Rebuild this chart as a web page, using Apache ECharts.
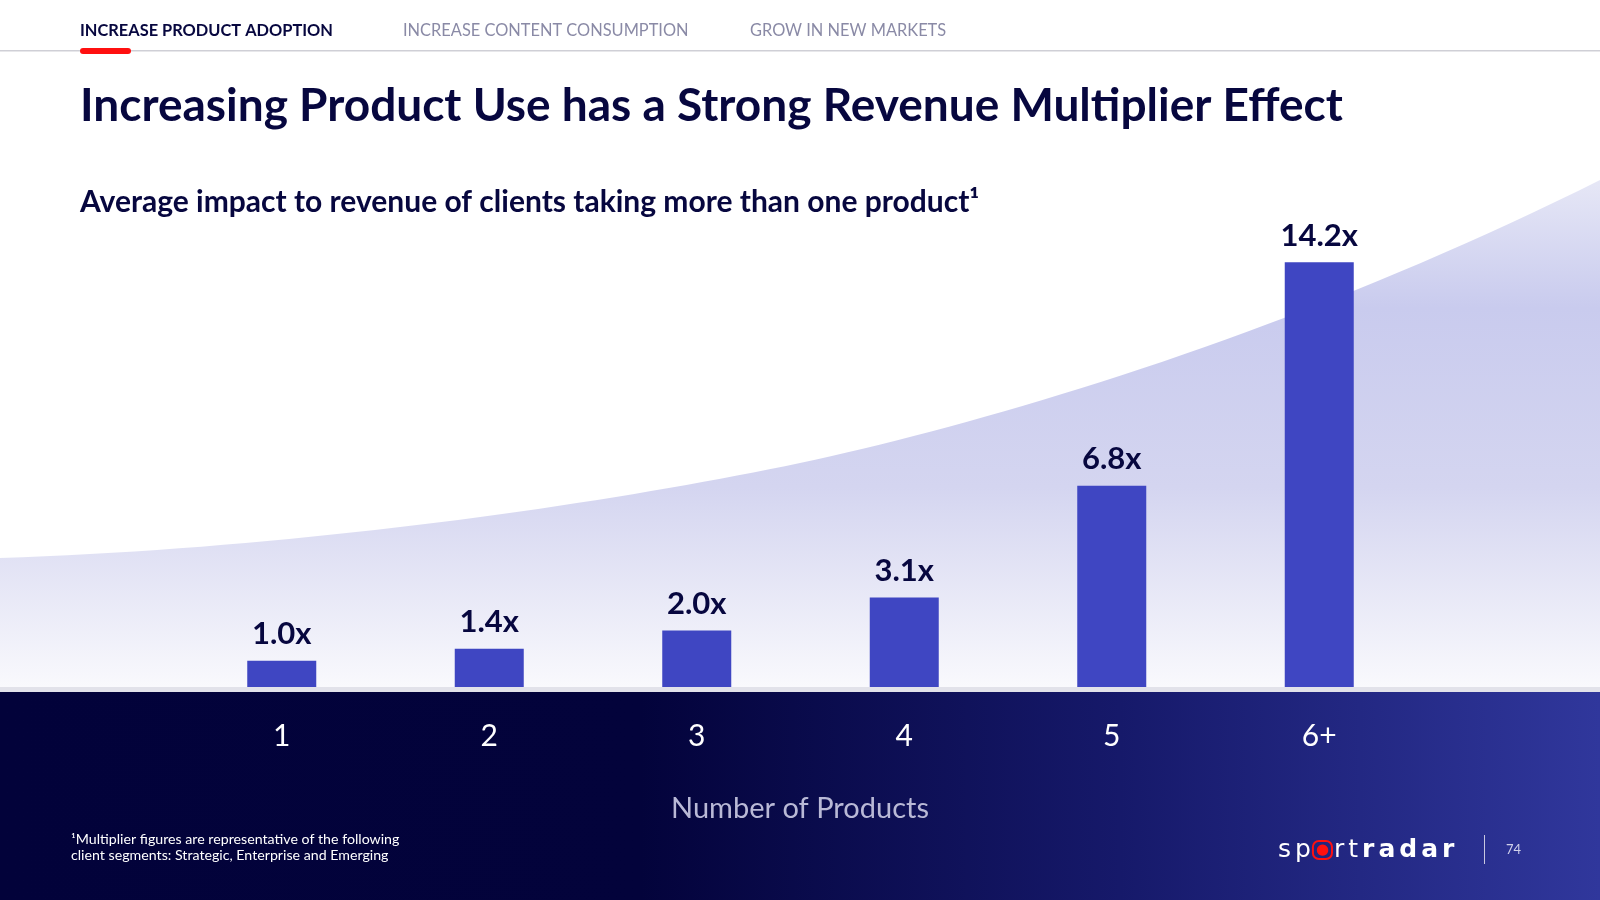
<!DOCTYPE html>
<html>
<head>
    <meta charset="utf-8">
    <title>Increasing Product Use has a Strong Revenue Multiplier Effect</title>
    <script src="https://cdn.jsdelivr.net/npm/echarts@6/dist/echarts.min.js"></script>
    <style>
        html, body { margin: 0; padding: 0; background: #ffffff; }
        #chart1 { width: 1600px; height: 900px; }
    </style>
</head>
<body>
    <div id="chart1"></div>

<script type="text/javascript">
    // data
    let products = ['1', '2', '3', '4', '5', '6+'];
    let multiplier = [1.0, 1.4, 2.0, 3.1, 6.8, 14.2];
    let navItems = ['INCREASE PRODUCT ADOPTION', 'INCREASE CONTENT CONSUMPTION', 'GROW IN NEW MARKETS'];
    let navX = [80, 403, 750];

    let FONT = "'Lato', sans-serif";
    let NAVY = '#07073f';

    function grad(x2, y2, stops) {
        return { type: 'linear', x: 0, y: 0, x2: x2, y2: y2, colorStops: stops };
    }

    // decorative swoosh outline (two cubic segments), sampled into a polygon
    function swoosh() {
        let segs = [
            [[0, 558], [300, 548], [600, 505], [800, 463]],
            [[800, 463], [1000, 420], [1300, 330], [1600, 180]]
        ];
        let pts = [];
        segs.forEach(function (s) {
            for (let i = 0; i <= 40; i++) {
                let t = i / 40, u = 1 - t;
                let a = u * u * u, b = 3 * u * u * t, c = 3 * u * t * t, d = t * t * t;
                pts.push([a * s[0][0] + b * s[1][0] + c * s[2][0] + d * s[3][0],
                          a * s[0][1] + b * s[1][1] + c * s[2][1] + d * s[3][1]]);
            }
        });
        pts.push([1600, 692], [0, 692]);
        return pts;
    }

    let myChart1 = echarts.init(document.getElementById('chart1'));

    let graphics = [
        {
            type: 'polygon', z: -10,
            shape: { points: swoosh() },
            style: {
                fill: grad(0, 1, [
                    { offset: 0, color: '#e6e7f6' },
                    { offset: 0.25, color: '#c9cbee' },
                    { offset: 0.6, color: '#d4d5f0' },
                    { offset: 1, color: '#fafafd' }
                ])
            }
        },
        // dark footer band
        {
            type: 'rect', z: -9,
            shape: { x: 0, y: 692, width: 1600, height: 208 },
            style: {
                fill: grad(1, 0, [
                    { offset: 0, color: '#02023a' },
                    { offset: 0.4, color: '#03033b' },
                    { offset: 0.7, color: '#16196a' },
                    { offset: 1, color: '#30379c' }
                ])
            }
        },
        // gray base line
        { type: 'rect', z: 20, shape: { x: 0, y: 687, width: 1600, height: 5 }, style: { fill: '#e2e2ea' } },
        // nav divider + red marker
        { type: 'rect', z: 20, shape: { x: 0, y: 50, width: 1600, height: 1.5 }, style: { fill: '#cfcfd6' } },
        { type: 'rect', z: 21, shape: { x: 80, y: 48, width: 51, height: 6, r: 3 }, style: { fill: '#ff1010' } },
        // titles
        {
            type: 'text', z: 20, x: 80, y: 106,
            style: { text: 'Increasing Product Use has a Strong Revenue Multiplier Effect', fill: NAVY,
                font: 'bold 46px ' + FONT, verticalAlign: 'middle' }
        },
        {
            type: 'text', z: 20, x: 80, y: 202,
            style: { text: 'Average impact to revenue of clients taking more than one product¹', fill: NAVY,
                font: 'bold 30px ' + FONT, verticalAlign: 'middle' }
        },
        // axis name
        {
            type: 'text', z: 20, x: 800, y: 809,
            style: { text: 'Number of Products', fill: '#b9b9d6', font: '29px ' + FONT,
                align: 'center', verticalAlign: 'middle' }
        },
        // footnote
        {
            type: 'text', z: 20, x: 71, y: 847,
            style: { text: '¹Multiplier figures are representative of the following\nclient segments: Strategic, Enterprise and Emerging',
                fill: '#ffffff', font: '14.2px ' + FONT, lineHeight: 16, verticalAlign: 'middle' }
        },
        // logo + page number
        {
            type: 'text', z: 20, x: 1276, y: 850,
            style: {
                text: '{a|s}{a|p}{o|●}{a|r}{a|t}{b|r}{b|a}{b|d}{b|a}{b|r}',
                verticalAlign: 'middle',
                rich: {
                    a: { fill: '#ffffff', font: '25px DejaVu Sans', padding: [0, 2] },
                    b: { fill: '#ffffff', font: 'bold 25px DejaVu Sans', padding: [0, 2] },
                    o: { fill: '#ff1010', font: '15px DejaVu Sans', borderColor: '#ff1010', borderWidth: 2,
                        borderRadius: 6, padding: [2, 3, 1, 3] }
                }
            }
        },
        { type: 'rect', z: 20, shape: { x: 1484, y: 835, width: 1, height: 29 }, style: { fill: '#c8c8e0' } },
        {
            type: 'text', z: 20, x: 1506, y: 850,
            style: { text: '74', fill: '#d0d0ea', font: '13px ' + FONT, verticalAlign: 'middle' }
        }
    ];

    navItems.forEach(function (name, i) {
        graphics.push({
            type: 'text', z: 20, x: navX[i], y: 31,
            style: { text: name, fill: i === 0 ? NAVY : '#8a8aa6',
                font: (i === 0 ? 'bold ' : '') + '16.4px ' + FONT, verticalAlign: 'middle' }
        });
    });

    myChart1.setOption({
        animation: false,
        backgroundColor: '#ffffff',
        graphic: graphics,
        grid: { left: 178, right: 177, top: 238, bottom: 209 },
        xAxis: {
            type: 'category',
            data: products,
            z: 10,
            axisLine: { show: false },
            axisTick: { show: false },
            axisLabel: { color: '#ffffff', fontSize: 30, fontFamily: FONT, margin: 30 }
        },
        yAxis: {
            type: 'value',
            min: 0,
            max: 15,
            show: false,
            splitLine: { show: false }
        },
        series: [{
            type: 'bar',
            z: 5,
            data: multiplier,
            barWidth: 69,
            itemStyle: { color: '#3f46c2' },
            label: {
                show: true,
                position: 'top',
                distance: 11,
                color: NAVY,
                fontSize: 31,
                fontWeight: 'bold',
                fontFamily: FONT,
                formatter: function (p) { return p.value.toFixed(1) + 'x'; }
            }
        }]
    });
</script>
</body>
</html>
